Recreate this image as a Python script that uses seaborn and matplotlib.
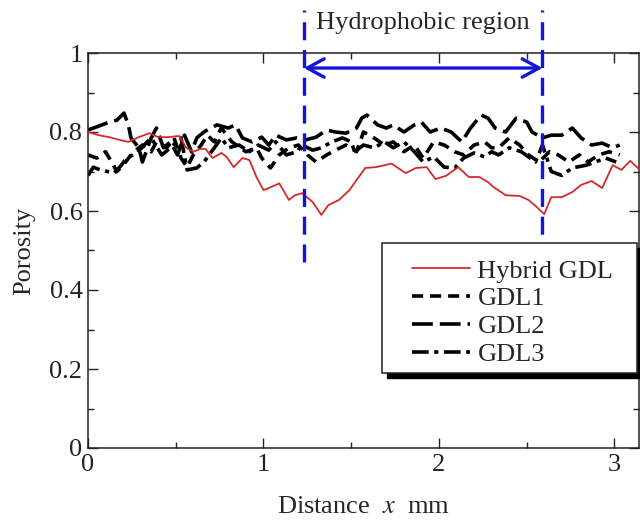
import matplotlib
matplotlib.use("Agg")
import matplotlib.pyplot as plt
import seaborn as sns
import pandas as pd
from matplotlib.patches import Rectangle
from matplotlib.ticker import MultipleLocator

# ---------------- data ----------------
hybrid_x = [0.00, 0.06, 0.12, 0.18, 0.23, 0.29, 0.35, 0.40, 0.46, 0.52, 0.56, 0.60,
            0.64, 0.67, 0.71, 0.76, 0.79, 0.83, 0.88, 0.92, 0.96, 1.00, 1.03, 1.09,
            1.145, 1.18, 1.22, 1.28, 1.33, 1.37, 1.43, 1.49, 1.53, 1.58, 1.64, 1.73,
            1.81, 1.87, 1.93, 1.98, 2.04, 2.11, 2.17, 2.23, 2.28, 2.31, 2.38, 2.46,
            2.51, 2.55, 2.60, 2.64, 2.70, 2.76, 2.81, 2.87, 2.93, 2.99, 3.04, 3.09, 3.14]
hybrid_y = [0.800, 0.792, 0.787, 0.780, 0.775, 0.787, 0.797, 0.787, 0.787, 0.790, 0.760, 0.750,
            0.757, 0.757, 0.734, 0.747, 0.737, 0.711, 0.734, 0.729, 0.686, 0.653, 0.658, 0.670,
            0.628, 0.640, 0.645, 0.623, 0.590, 0.615, 0.628, 0.653, 0.678, 0.709, 0.711, 0.720,
            0.696, 0.709, 0.711, 0.681, 0.689, 0.711, 0.686, 0.686, 0.673, 0.661, 0.640, 0.638,
            0.628, 0.613, 0.592, 0.635, 0.635, 0.648, 0.666, 0.676, 0.658, 0.716, 0.704, 0.727, 0.706]

gdl1_x = [0.00, 0.05, 0.10, 0.165, 0.20, 0.26, 0.31, 0.36, 0.39, 0.45, 0.49, 0.53, 0.565,
          0.60, 0.645, 0.68, 0.72, 0.76, 0.82, 0.90, 0.96, 0.99, 1.04, 1.09, 1.145, 1.20,
          1.25, 1.30, 1.36, 1.41, 1.47, 1.53, 1.57, 1.63, 1.69, 1.74, 1.80, 1.86, 1.91,
          1.97, 2.03, 2.09, 2.14, 2.20, 2.26, 2.30, 2.34, 2.40, 2.46, 2.51, 2.57, 2.63,
          2.68, 2.74, 2.80, 2.85, 2.91, 2.97, 3.03]
gdl1_y = [0.742, 0.734, 0.750, 0.700, 0.716, 0.750, 0.767, 0.750, 0.775, 0.760, 0.785, 0.734, 0.711,
          0.742, 0.767, 0.792, 0.775, 0.810, 0.775, 0.750, 0.760, 0.734, 0.709, 0.742, 0.760, 0.767,
          0.742, 0.724, 0.742, 0.754, 0.767, 0.750, 0.800, 0.785, 0.767, 0.775, 0.750, 0.767, 0.734,
          0.775, 0.767, 0.750, 0.742, 0.767, 0.775, 0.760, 0.760, 0.785, 0.767, 0.742, 0.724, 0.750,
          0.742, 0.724, 0.742, 0.724, 0.742, 0.750, 0.742]

gdl2_x = [0.00, 0.05, 0.12, 0.165, 0.205, 0.23, 0.245, 0.29, 0.31, 0.36, 0.39, 0.43, 0.47,
          0.51, 0.55, 0.59, 0.62, 0.66, 0.70, 0.735, 0.80, 0.84, 0.88, 0.935, 0.99, 1.03,
          1.07, 1.13, 1.19, 1.24, 1.30, 1.36, 1.41, 1.47, 1.53, 1.56, 1.59, 1.65, 1.70,
          1.74, 1.80, 1.86, 1.90, 1.95, 2.01, 2.07, 2.13, 2.18, 2.24, 2.28, 2.32, 2.38,
          2.44, 2.50, 2.53, 2.59, 2.64, 2.70, 2.76, 2.81, 2.87, 2.93, 2.99, 3.03]
gdl2_y = [0.805, 0.813, 0.825, 0.830, 0.848, 0.818, 0.785, 0.760, 0.724, 0.785, 0.810, 0.760, 0.775,
          0.742, 0.792, 0.750, 0.785, 0.800, 0.810, 0.818, 0.810, 0.818, 0.785, 0.775, 0.787, 0.767,
          0.792, 0.780, 0.785, 0.780, 0.787, 0.805, 0.800, 0.797, 0.810, 0.835, 0.843, 0.818, 0.810,
          0.818, 0.800, 0.818, 0.825, 0.800, 0.810, 0.800, 0.775, 0.810, 0.843, 0.835, 0.810, 0.800,
          0.835, 0.825, 0.800, 0.785, 0.792, 0.792, 0.810, 0.785, 0.767, 0.772, 0.760, 0.767]

gdl3_x = [0.00, 0.03, 0.07, 0.15, 0.19, 0.22, 0.28, 0.32, 0.36, 0.42, 0.47, 0.53, 0.565,
          0.62, 0.66, 0.72, 0.76, 0.80, 0.86, 0.92, 0.97, 1.03, 1.07, 1.13, 1.19, 1.22,
          1.28, 1.33, 1.39, 1.45, 1.50, 1.52, 1.57, 1.63, 1.69, 1.74, 1.80, 1.86, 1.91,
          1.97, 2.03, 2.09, 2.14, 2.20, 2.26, 2.30, 2.34, 2.40, 2.47, 2.55, 2.59, 2.64,
          2.70, 2.76, 2.84, 2.89, 2.95, 3.01]
gdl3_y = [0.690, 0.711, 0.704, 0.696, 0.716, 0.734, 0.747, 0.767, 0.785, 0.742, 0.760, 0.785, 0.704,
          0.709, 0.724, 0.760, 0.785, 0.760, 0.767, 0.750, 0.767, 0.754, 0.775, 0.742, 0.750, 0.767,
          0.754, 0.760, 0.775, 0.785, 0.775, 0.750, 0.767, 0.760, 0.775, 0.760, 0.775, 0.750, 0.724,
          0.737, 0.711, 0.709, 0.734, 0.747, 0.737, 0.750, 0.742, 0.760, 0.750, 0.724, 0.767, 0.700,
          0.690, 0.709, 0.716, 0.724, 0.734, 0.724]

series_names = ["Hybrid GDL", "GDL1", "GDL2", "GDL3"]
region_bounds = [1.23, 2.59]
region_label = "Hydrophobic region"
x_ticks = [0, 1, 2, 3]
y_ticks = [0, 0.2, 0.4, 0.6, 0.8, 1]
y_tick_labels = ["0", "0.2", "0.4", "0.6", "0.8", "1"]

# ---------------- style ----------------
sns.set_style("ticks")
plt.rcParams["font.family"] = ["Liberation Serif", "DejaVu Serif"]
plt.rcParams["mathtext.fontset"] = "stix"
plt.rcParams["lines.scale_dashes"] = False
FS = 19

fig = plt.figure(figsize=(6.4, 5.24), dpi=100)
ax = fig.add_axes([88 / 640, 1 - 448 / 524, 551 / 640, 395 / 524])

frames = [
    pd.DataFrame({"x": hybrid_x, "y": hybrid_y}),
    pd.DataFrame({"x": gdl1_x, "y": gdl1_y}),
    pd.DataFrame({"x": gdl2_x, "y": gdl2_y}),
    pd.DataFrame({"x": gdl3_x, "y": gdl3_y}),
]
styles = [
    dict(color="#d42a2a", lw=1.3, ls="-"),
    dict(color="black", lw=2.6, ls=(0, (8, 5))),
    dict(color="black", lw=2.6, ls=(0, (15, 5))),
    dict(color="black", lw=2.6, ls=(0, (12, 4, 3, 4))),
]
handles = []
for df, st, name in zip(frames, styles, series_names):
    sns.lineplot(data=df, x="x", y="y", ax=ax, color=st["color"], linewidth=st["lw"],
                 linestyle=st["ls"], label=name, legend=False, estimator=None, sort=False)
    handles.append(ax.lines[-1])

handles[0].set_zorder(5)

ax.set_xlim(0, 3.14)
ax.set_ylim(0, 1)
ax.set_xticks(x_ticks)
ax.set_yticks(y_ticks)
ax.set_yticklabels(y_tick_labels)
ax.xaxis.set_minor_locator(MultipleLocator(0.5))
ax.yaxis.set_minor_locator(MultipleLocator(0.1))
ax.tick_params(which="both", direction="in", top=True, right=True, labelsize=FS,
               width=1.0, colors="#222222")
ax.tick_params(which="major", length=7, pad=4)
ax.tick_params(which="minor", length=4.5)
for s in ax.spines.values():
    s.set_linewidth(1.1)
    s.set_color("#222222")

ax.set_xlabel(r"Distance  $x$  mm", fontsize=FS, labelpad=15)
ax.set_ylabel("Porosity", fontsize=FS, labelpad=10)

# hydrophobic region markers
blue = "#1414d8"
for xb in region_bounds:
    ax.plot([xb, xb], [0.47, 1.11], color=blue, lw=2.4, ls=(0, (13, 7)),
            clip_on=False, zorder=6)
ax.annotate("", xy=(region_bounds[1], 0.962), xytext=(region_bounds[0], 0.962),
            arrowprops=dict(arrowstyle="<->,head_length=0.55,head_width=0.3",
                            color=blue, lw=2.4, mutation_scale=22,
                            shrinkA=0, shrinkB=0), zorder=6)
ax.text(sum(region_bounds) / 2, 1.075, region_label, ha="center", va="center",
        fontsize=FS, clip_on=False)

# legend box with shadow (axes fraction)
bx0, by0, bw, bh = 0.534, 0.190, 0.462, 0.329
sh = Rectangle((bx0 + 0.009, by0 - 0.012), bw, bh, transform=ax.transAxes,
               facecolor="black", edgecolor="black", zorder=7, clip_on=False)
fr = Rectangle((bx0, by0), bw, bh, transform=ax.transAxes,
               facecolor="white", edgecolor="#222222", lw=1.1, zorder=8, clip_on=False)
ax.add_patch(sh)
ax.add_patch(fr)
leg = ax.legend(handles=handles, labels=series_names, loc="upper left",
                bbox_to_anchor=(0.588, 0.478), frameon=False, fontsize=FS,
                handlelength=2.2, handletextpad=0.28, labelspacing=0.16,
                borderpad=0, borderaxespad=0)
leg.set_zorder(9)

fig.savefig("out.png", dpi=100)
